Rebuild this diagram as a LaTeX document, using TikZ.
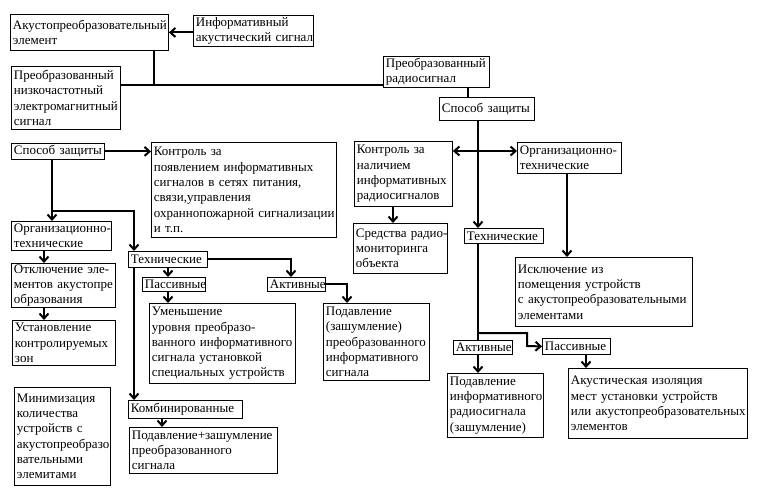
\documentclass[tikz,border=0pt]{standalone}
\usepackage{fontspec}
\setmainfont{Liberation Serif}
\usetikzlibrary{arrows.meta}
\hyphenpenalty=10000
\exhyphenpenalty=10000
\tikzset{
  box/.style={draw, line width=0.9pt, inner xsep=2.5pt, inner ysep=1pt, align=left,
    font=\fontsize{13}{15.3}\selectfont},
  conn/.style={line width=2pt},
  arr/.style={line width=2pt, -{Straight Barb[length=5pt,width=9pt]}}
}
\newcommand{\mybox}[6]{\pgfmathsetmacro{\myBW}{#4-#2-5}\pgfmathsetmacro{\myBH}{#5-#3}%
  \node[box, text width=\myBW pt, minimum height=\myBH pt, anchor=north west] (#1) at (#2,#3) {#6};}
\begin{document}
\begin{tikzpicture}[x=1pt,y=-1pt]
\fill[white] (0,0) rectangle (765,502);
\useasboundingbox (0,0) rectangle (765,502);
% boxes
\mybox{A}{10}{14}{168}{50}{Акустопреобразовательный\\элемент}
\mybox{B}{193}{15}{313}{46}{Информативный\\акустический~сигнал}
\mybox{C}{11}{66}{120}{129}{Преобразованный\\низкочастотный\\электромагнитный\\сигнал}
\mybox{D}{383}{56}{489}{87}{Преобразованный\\радиосигнал}
\mybox{E}{439}{97}{534}{120}{Способ~защиты}
\mybox{KR}{354}{141}{452}{206}{Контроль~за\\наличием\\информативных\\радиосигналов}
\mybox{SR}{353}{223}{447}{273}{Средства~радио-\\мониторинга\\объекта}
\mybox{OR}{517}{142}{621}{173}{Организационно-\\технические}
\mybox{IR}{515}{257}{692}{326}{Исключение~из\\помещения~устройств\\с~акустопреобразовательными\\элементами}
\mybox{TR}{464}{228}{543}{243}{Технические}
\mybox{AR}{453}{340}{512}{354}{Активные}
\mybox{PR}{542}{338}{610}{354}{Пассивные}
\mybox{PodR}{447}{373}{543}{437}{Подавление\\информативного\\радиосигнала\\(зашумление)}
\mybox{AkR}{568}{368}{747}{438}{Акустическая~изоляция\\мест~установки~устройств\\или~акустопреобразовательных\\элементов}
\mybox{SL}{11}{143}{104}{159}{Способ~защиты}
\mybox{KL}{151}{142}{336}{237}{Контроль~за\\появлением~информативных\\сигналов~в~сетях~питания,\\связи,управления\\охраннопожарной~сигнализации\\и~т.п.}
\mybox{OL}{11}{221}{111}{250}{Организационно-\\технические}
\mybox{Otk}{11}{263}{115}{307}{Отключение~эле-\\ментов~акустопре\\образования}
\mybox{Ust}{12}{320}{115}{365}{Установление\\контролируемых\\зон}
\mybox{Min}{14}{387}{110}{485}{Минимизация\\количества\\устройств~с\\акустопреобразо\\вательными\\элемитами}
\mybox{TL}{128}{251}{207}{267}{Технические}
\mybox{PL}{142}{277}{205}{291}{Пассивные}
\mybox{AL}{267}{277}{325}{291}{Активные}
\mybox{Um}{149}{303}{295}{383}{Уменьшение\\уровня~преобразо-\\ванного~информативного\\сигнала~установкой\\специальных~устройств}
\mybox{PodL}{323}{303}{429}{380}{Подавление\\(зашумление)\\преобразованного\\информативного\\сигнала}
\mybox{Komb}{128}{400}{242}{418}{Комбинированные}
\mybox{PP}{129}{427}{277}{473}{Подавление+зашумление\\преобразованного\\сигнала}
% coordinates
\coordinate (j1) at (154,85);
\coordinate (x2) at (468,0);
\coordinate (j3) at (478,151);
\coordinate (x5) at (393,0);
\coordinate (x6) at (567,0);
\coordinate (j4) at (478,333);
\coordinate (j5) at (527,346);
\coordinate (x7) at (586,0);
\coordinate (j6) at (52,211);
\coordinate (x8) at (134,0);
\coordinate (x9) at (44,0);
\coordinate (x10) at (168,0);
\coordinate (x11) at (162,0);
\coordinate (x12) at (291,0);
\coordinate (x13) at (347,0);
% connectors top
\draw[arr] (B.west|-A.east) -- (A.east);
\draw[conn] (A.south-|j1) -- (j1);
\draw[conn] (C.east|-j1) -- (D.west|-j1);
\draw[conn] (D.south-|x2) -- (E.north-|x2);
% right branch
\draw[conn] (E.south-|j3) -- (j3);
\draw[arr] (j3) -- (KR.east|-j3);
\draw[arr] (j3) -- (OR.west|-j3);
\draw[arr] (j3) -- (TR.north-|j3);
\draw[arr] (KR.south-|x5) -- (SR.north-|x5);
\draw[arr] (OR.south-|x6) -- (IR.north-|x6);
\draw[conn] (TR.south-|j4) -- (AR.north-|j4);
\draw[arr] (j4) -| (j5) -- (PR.west);
\draw[arr] (AR.south-|j4) -- (PodR.north-|j4);
\draw[arr] (PR.south-|x7) -- (AkR.north-|x7);
% left branch
\draw[arr] (SL.east) -- (KL.west|-SL.east);
\draw[conn] (SL.south-|j6) -- (j6);
\draw[arr] (j6) -- (OL.north-|j6);
\draw[arr] (j6) -| (TL.north-|x8);
\draw[arr] (OL.south-|x9) -- (Otk.north-|x9);
\draw[arr] (Otk.south-|x9) -- (Ust.north-|x9);
\draw[arr] (TL.south-|x10) -- (PL.north-|x10);
\draw[arr] (PL.south-|x10) -- (Um.north-|x10);
\draw[arr] (TL.south-|x8) -- (Komb.north-|x8);
\draw[arr] (Komb.south-|x11) -- (PP.north-|x11);
\draw[arr] (TL.east) -| (AL.north-|x12);
\draw[arr] (AL.east) -| (PodL.north-|x13);
\end{tikzpicture}
\end{document}
